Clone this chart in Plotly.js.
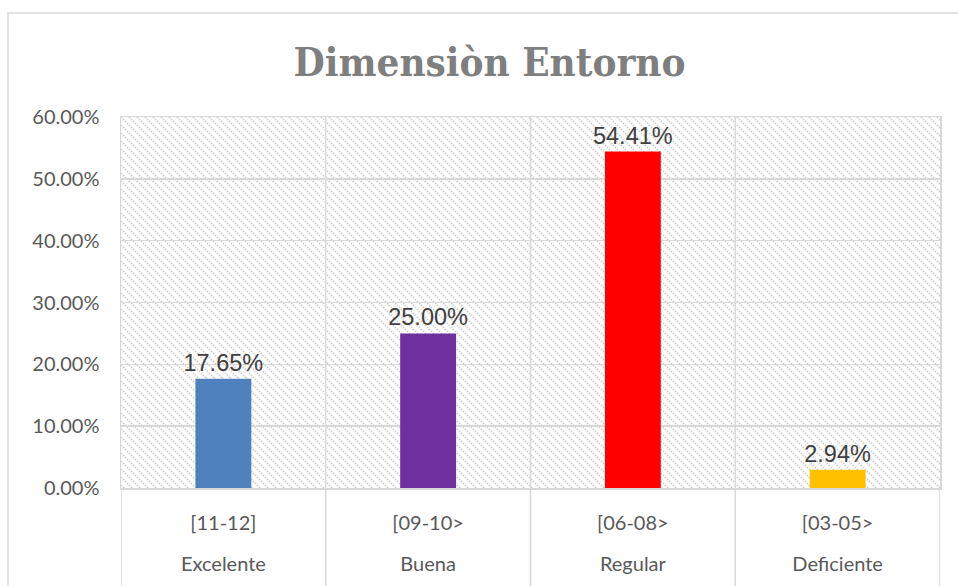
<!DOCTYPE html>
<html>
<head>
<meta charset="utf-8">
<script src="https://cdn.plot.ly/plotly-3.0.1.min.js"></script>
<style>html,body{margin:0;padding:0;background:#fff;}#chart{width:958px;height:586px;}</style>
</head>
<body>
<div id="chart"></div>
<script>
var ranges = ["[11-12]", "[09-10>", "[06-08>", "[03-05>"];
var levels = ["Excelente", "Buena", "Regular", "Deficiente"];
var percents = [17.65, 25.00, 54.41, 2.94];
var barColors = ["#4F81BD", "#7030A0", "#FF0000", "#FFC000"];
var yTicks = [0, 10, 20, 30, 40, 50, 60];

var hatchSvg = '<svg xmlns="http://www.w3.org/2000/svg" width="819" height="371">' +
  '<defs><pattern id="p" width="8" height="8" patternUnits="userSpaceOnUse">' +
  '<path d="M-2,-2 L10,10 M-2,6 L2,10 M6,-2 L10,2" stroke="#d0d0d0" stroke-width="2" stroke-dasharray="1.4,1.4"/>' +
  '</pattern></defs><rect width="100%" height="100%" fill="url(#p)"/></svg>';
var hatchUri = 'data:image/svg+xml;charset=utf-8,' + encodeURIComponent(hatchSvg);

var catIdx = ranges.map(function(_, i){ return i; });

var trace = {
  type: 'bar',
  x: catIdx,
  y: percents,
  marker: {color: barColors},
  text: percents.map(function(v){ return v.toFixed(2) + '%'; }),
  textposition: 'outside',
  constraintext: 'none',
  cliponaxis: false,
  textfont: {family: 'Liberation Sans, Arial, sans-serif', size: 23.5, color: '#404040'},
  hoverinfo: 'none'
};

var labelFont = {family: 'Lato, Carlito, sans-serif', size: 20, color: '#595959'};

// dividers below the axis at category boundaries
var dividers = [];
for (var i = 0; i <= ranges.length; i++) {
  dividers.push({
    type: 'line', xref: 'x', yref: 'paper',
    x0: i - 0.5, x1: i - 0.5, y0: 0, y1: -0.3,
    line: {color: '#d9d9d9', width: 1.5}, layer: 'below'
  });
}
dividers.push({
  type: 'rect', xref: 'paper', yref: 'paper',
  x0: -0.138, x1: 1.5, y0: -0.6, y1: 1.28,
  line: {color: '#d9d9d9', width: 1.5}, fillcolor: 'rgba(0,0,0,0)', layer: 'below'
});

var layout = {
  width: 958, height: 586,
  margin: {l: 121, r: 18, t: 117, b: 98},
  paper_bgcolor: '#ffffff',
  plot_bgcolor: 'rgba(0,0,0,0)',
  showlegend: false,
  bargap: 0.727,
  title: {
    text: '<b>Dimensiòn Entorno</b>',
    font: {family: 'DejaVu Serif Condensed, DejaVu Serif, serif', size: 40, color: '#7f7f7f'},
    x: 0.511, xref: 'container', xanchor: 'center',
    y: 0.894, yref: 'container', yanchor: 'middle'
  },
  xaxis: {
    type: 'linear',
    range: [-0.5, ranges.length - 0.5],
    tickvals: catIdx,
    ticktext: ranges,
    showgrid: false,
    showline: true, linecolor: '#d9d9d9', linewidth: 1.5, mirror: true,
    zeroline: false,
    ticks: '',
    ticklabelstandoff: 16,
    tickfont: labelFont
  },
  xaxis2: {
    overlaying: 'x', side: 'bottom', anchor: 'y',
    type: 'linear',
    range: [-0.5, ranges.length - 0.5],
    tickvals: catIdx,
    ticktext: levels,
    showgrid: true, gridcolor: '#d9d9d9', gridwidth: 1.5,
    showline: false, zeroline: false,
    ticks: '',
    ticklabelstandoff: 62,
    tickfont: labelFont
  },
  yaxis: {
    range: [0, 60],
    tickvals: yTicks,
    ticktext: yTicks.map(function(v){ return v.toFixed(2) + '%'; }),
    showgrid: true, gridcolor: '#d9d9d9', gridwidth: 1.5,
    showline: true, linecolor: '#d9d9d9', linewidth: 1.5, mirror: true,
    zeroline: false,
    ticks: '',
    ticklabelstandoff: 16,
    tickfont: labelFont
  },
  images: [{
    source: hatchUri, xref: 'paper', yref: 'paper',
    x: 0, y: 1, sizex: 1, sizey: 1, sizing: 'stretch',
    xanchor: 'left', yanchor: 'top', layer: 'below'
  }],
  shapes: dividers
};

// vertical gridlines at category boundaries drawn by the main x axis grid via minor-free approach
layout.xaxis.showgrid = false;
layout.xaxis2.showgrid = false;
for (var j = 1; j < ranges.length; j++) {
  layout.shapes.push({
    type: 'line', xref: 'x', yref: 'paper',
    x0: j - 0.5, x1: j - 0.5, y0: 0, y1: 1,
    line: {color: '#d9d9d9', width: 1.5}, layer: 'below'
  });
}

var ghost = {type: 'scatter', x: catIdx, y: percents, xaxis: 'x2', mode: 'none', hoverinfo: 'none', showlegend: false};

Plotly.newPlot('chart', [trace, ghost], layout, {displayModeBar: false, staticPlot: true});
</script>
</body>
</html>
